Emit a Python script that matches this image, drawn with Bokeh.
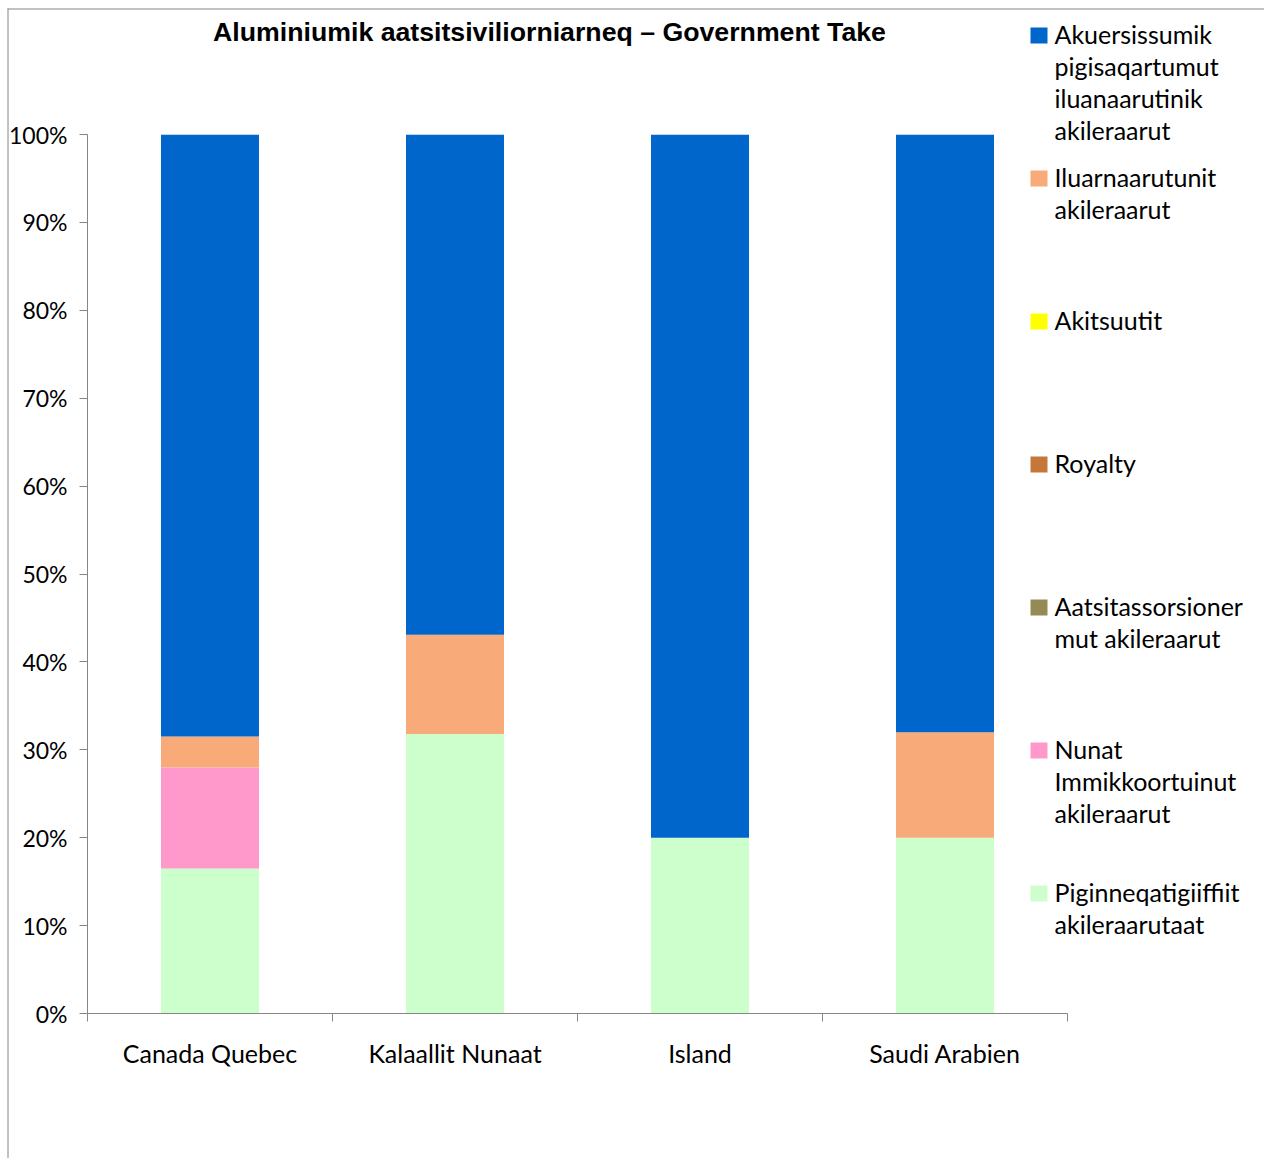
from bokeh.plotting import figure
from bokeh.models import Range1d, FixedTicker, NumeralTickFormatter
from bokeh.core.properties import value
from bokeh.embed import file_html
from bokeh.resources import INLINE

# ---- data ----
categories = ["Canada Quebec", "Kalaallit Nunaat", "Island", "Saudi Arabien"]

# stack order bottom -> top
series_names = [
    "Piginneqatigiiffiit akileraarutaat",
    "Nunat Immikkoortuinut akileraarut",
    "Aatsitassorsionermut akileraarut",
    "Royalty",
    "Akitsuutit",
    "Iluarnaarutunit akileraarut",
    "Akuersissumik pigisaqartumut iluanaarutinik akileraarut",
]
legend_lines = [
    ["Piginneqatigiiffiit", "akileraarutaat"],
    ["Nunat", "Immikkoortuinut", "akileraarut"],
    ["Aatsitassorsioner", "mut akileraarut"],
    ["Royalty"],
    ["Akitsuutit"],
    ["Iluarnaarutunit", "akileraarut"],
    ["Akuersissumik", "pigisaqartumut", "iluanaarutinik", "akileraarut"],
]
colors = ["#CCFFCC", "#FF99CC", "#948A54", "#C5773A", "#FFFF00", "#F8AA78", "#0066CC"]

piginneqatigiiffiit = [0.165, 0.318, 0.200, 0.200]
nunat = [0.115, 0.0, 0.0, 0.0]
aatsitassorsioner = [0.0, 0.0, 0.0, 0.0]
royalty = [0.0, 0.0, 0.0, 0.0]
akitsuutit = [0.0, 0.0, 0.0, 0.0]
iluarnaarutunit = [0.035, 0.113, 0.0, 0.120]
akuersissumik = [0.685, 0.569, 0.800, 0.680]

values = [piginneqatigiiffiit, nunat, aatsitassorsioner, royalty, akitsuutit,
          iluarnaarutunit, akuersissumik]

y_ticks = [i / 10 for i in range(11)]
title_text = "Aluminiumik aatsitsiviliorniarneq \u2013 Government Take"

W, H = 1264, 1158
GRAY = "#868686"

# ---- main chart ----
centers = [i + 0.5 for i in range(len(categories))]
bounds = [i for i in range(len(categories) + 1)]

p = figure(width=W, height=H, output_backend="svg", toolbar_location=None,
           x_range=Range1d(0, len(categories)), y_range=Range1d(0, 1),
           min_border_left=87, min_border_right=197, min_border_top=134,
           min_border_bottom=145, title=None)
p.outline_line_color = None
p.xgrid.grid_line_color = None
p.ygrid.grid_line_color = None
p.background_fill_color = "white"
p.border_fill_color = "white"

data = {"x": centers}
keys = []
for i, v in enumerate(values):
    k = "s%d" % i
    data[k] = v
    keys.append(k)
p.vbar_stack(keys, x="x", width=0.4, color=colors, line_color=None, source=data)

ya = p.yaxis[0]
ya.ticker = FixedTicker(ticks=y_ticks)
ya.formatter = NumeralTickFormatter(format="0%")
ya.axis_line_color = GRAY
ya.major_tick_line_color = GRAY
ya.minor_tick_line_color = None
ya.major_tick_out = 8
ya.major_tick_in = 0
ya.major_label_standoff = 12
ya.major_label_text_font = "Lato"
ya.major_label_text_font_size = "23px"
ya.major_label_text_color = "black"

xa = p.xaxis[0]
xa.ticker = FixedTicker(ticks=centers, minor_ticks=bounds)
xa.major_label_overrides = {c: n for c, n in zip(centers, categories)}
xa.axis_line_color = GRAY
xa.major_tick_line_color = None
xa.major_tick_out = 0
xa.major_tick_in = 0
xa.minor_tick_line_color = GRAY
xa.minor_tick_out = 8
xa.minor_tick_in = 0
xa.major_label_standoff = 16
xa.major_label_text_font = "Lato"
xa.major_label_text_font_size = "25px"
xa.major_label_text_color = "black"

# ---- overlay: chart border, title and legend (page-pixel layout) ----
q = figure(width=W, height=H, output_backend="svg", toolbar_location=None,
           x_range=Range1d(0, W), y_range=Range1d(H, 0),
           x_axis_type=None, y_axis_type=None, min_border=0, title=None)
q.outline_line_color = None
q.background_fill_alpha = 0
q.border_fill_alpha = 0
q.styles = {"position": "absolute", "left": "0px", "top": "0px"}

# chart-area border (top and left)
q.segment(x0=[7.5, 7], y0=[8, 8.5], x1=[7.5, W], y1=[H, 8.5],
          line_color=GRAY, line_width=1)

q.text(x=[549], y=[31], text=[title_text], text_align="center",
       text_baseline="alphabetic", text_font=value("Liberation Sans"),
       text_font_style="bold", text_font_size="26.7px", text_color="black")

n = len(series_names)
sw_l, sw_r, sw_t, sw_b = [], [], [], []
tx, ty, tt = [], [], []
sw_c = []
for k in range(n):
    idx = n - 1 - k
    base = 43 + 143 * k
    sw_l.append(1030)
    sw_r.append(1047)
    sw_t.append(base - 16)
    sw_b.append(base)
    sw_c.append(colors[idx])
    for j, line in enumerate(legend_lines[idx]):
        tx.append(1054)
        ty.append(base - 10 + 32 * j)
        tt.append(line)

q.quad(left=sw_l, right=sw_r, top=sw_t, bottom=sw_b, color=sw_c, line_color=None)
q.text(x=tx, y=ty, text=tt, text_align="left", text_baseline="alphabetic",
       text_font=value("Lato"), text_font_size="25px", text_color="black")

open("out.html", "w").write(file_html([p, q], INLINE))
